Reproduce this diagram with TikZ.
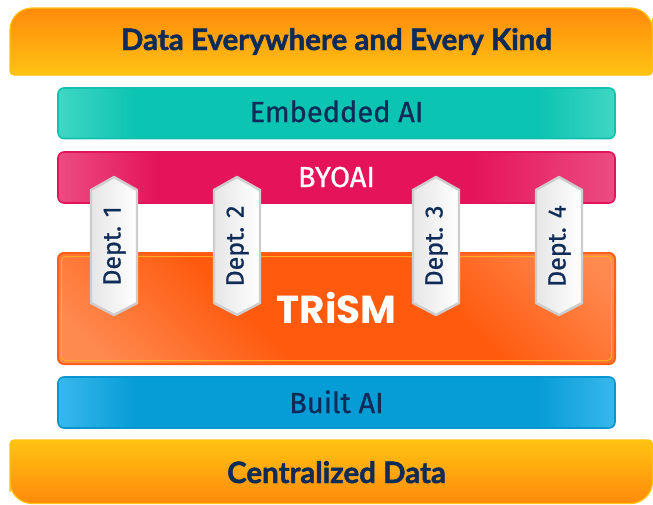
\documentclass[tikz,border=0pt]{standalone}
\usepackage{fontspec}
\setmainfont{Fira Sans}
\newfontfamily\medfont{Fira Sans}[FakeBold=0.8]
\newfontfamily\latofont{Lato}[BoldFeatures={FakeBold=1.6}]
\newfontfamily\popfont{Poppins}
\definecolor{navy}{HTML}{0F2B57}
\definecolor{embL}{HTML}{40D6C4}
\definecolor{embD}{HTML}{0BC4B1}
\definecolor{embB}{HTML}{12C0AE}
\definecolor{byoL}{HTML}{EC4C82}
\definecolor{byoD}{HTML}{E5135A}
\definecolor{byoB}{HTML}{E0155A}
\definecolor{bltL}{HTML}{38B8EC}
\definecolor{bltD}{HTML}{069CD6}
\definecolor{bltB}{HTML}{0A95D0}
\definecolor{trL}{HTML}{FF8A50}
\definecolor{trD}{HTML}{FF5A0E}
\definecolor{trB}{HTML}{FF5F15}
\definecolor{trI}{HTML}{FFAA22}
\definecolor{barO}{HTML}{FF8A0A}
\definecolor{barY}{HTML}{FFC313}
\definecolor{barB}{HTML}{FFC20E}
\definecolor{deptB}{HTML}{CDCDCD}
\definecolor{deptG}{HTML}{E6E6E6}
\pgfdeclarehorizontalshading{embsh}{100bp}{color(0bp)=(embL); color(25bp)=(embL); color(32bp)=(embD); color(68bp)=(embD); color(75bp)=(embL); color(100bp)=(embL)}
\pgfdeclarehorizontalshading{byosh}{100bp}{color(0bp)=(byoL); color(25bp)=(byoL); color(34bp)=(byoD); color(62bp)=(byoD); color(75bp)=(byoL); color(100bp)=(byoL)}
\pgfdeclarehorizontalshading{bltsh}{100bp}{color(0bp)=(bltL); color(25bp)=(bltL); color(32bp)=(bltD); color(68bp)=(bltD); color(75bp)=(bltL); color(100bp)=(bltL)}
\pgfdeclarehorizontalshading{trsh}{100bp}{color(0bp)=(trL); color(20bp)=(trL); color(40bp)=(trD); color(62bp)=(trD); color(82bp)=(trL); color(100bp)=(trL)}
\tikzset{
  x=1pt, y=-1pt,
  layer/.style={rounded corners=6pt, line width=1.6pt},
  lbl/.style={anchor=base, inner sep=0pt, text=navy},
  deptbox/.style={draw=deptB, line width=2.4pt, line join=round, left color=deptG, right color=white},
  depttxt/.style={anchor=base, inner sep=0pt, text=navy, font=\medfont\fontsize{25}{25}\selectfont, rotate=90},
}
\begin{document}
\begin{tikzpicture}
\useasboundingbox (0,0) rectangle (653,504);
% top bar
\path[draw=barB, line width=1.2pt, top color=barO, bottom color=barY]
  (10,40) [rounded corners=22pt] -- (10,8) -- (652.5,8) -- (652.5,40)
  [rounded corners=4pt] -- (652.5,75) -- (10,75) -- cycle;
% bottom bar
\path[draw=barB, line width=1.2pt, top color=barY, bottom color=barO]
  (10,470) [rounded corners=4pt] -- (10,440) -- (652.5,440) -- (652.5,470)
  [rounded corners=22pt] -- (652.5,503.5) -- (10,503.5) -- cycle;
% layers
\path[layer, draw=embB, shading=embsh] (58,88) rectangle (615,138.5);
\path[layer, draw=byoB, shading=byosh] (58,152) rectangle (615,203);
\path[layer, draw=trB, line width=2pt, shading=trsh, shading angle=45] (58,253) rectangle (615,364);
\path[draw=trI, line width=1pt, rounded corners=4pt] (61.5,256.5) rectangle (611.5,360.5);
\path[layer, draw=bltB, shading=bltsh] (58,377) rectangle (615,428);
% labels
\node[lbl, font=\latofont\bfseries\fontsize{29.5}{29.5}\selectfont] (top) at (336.5,50) {Data Everywhere and Every Kind};
\node[lbl, font=\medfont\fontsize{29}{29}\selectfont] (emb) at (336.5,122) {Embedded AI};
\node[lbl, text=white, font=\medfont\fontsize{29}{29}\selectfont] (byo) at (336.5,187) {BYOAI};
\node[lbl, text=white, font=\popfont\bfseries\fontsize{39}{39}\selectfont] (trism) at (336.5,323) {TRiSM};
\node[lbl, font=\medfont\fontsize{29}{29}\selectfont] (built) at (336.5,413) {Built AI};
\node[lbl, font=\latofont\bfseries\fontsize{29.5}{29.5}\selectfont] (bottom) at (336.5,483) {Centralized Data};
% departments
\foreach \cx/\n in {114/1,237/2,436/3,559/4}{
  \path[deptbox] (\cx,177) -- (\cx+23,190) -- (\cx+23,303) -- (\cx,315) -- (\cx-23,303) -- (\cx-23,190) -- cycle;
  \node[depttxt] (dept\n) at (\cx+6.5,246) {Dept. \n};
}
\end{tikzpicture}
\end{document}
